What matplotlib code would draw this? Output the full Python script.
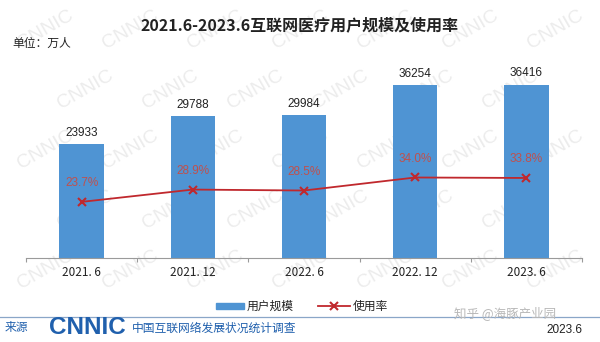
import numpy as np
import matplotlib.pyplot as plt

plt.rcParams['font.family'] = ['Liberation Sans', 'Noto Sans CJK SC', 'DejaVu Sans']
cjk = ['Noto Sans CJK SC', 'DejaVu Sans']

# 互联网医疗用户规模（万人）及使用率（%）
periods = ["2021. 6", "2021. 12", "2022. 6", "2022. 12", "2023. 6"]
users = [23933, 29788, 29984, 36254, 36416]
rate = [23.7, 28.9, 28.5, 34.0, 33.8]

bar_color = "#4f94d3"
line_color = "#c0282d"
label_red = "#c0504d"
cnnic_blue = "#2060ad"

fig = plt.figure(figsize=(6, 3.42), dpi=100)
ax = fig.add_axes([0.0433, 0.2456, 0.9267, 0.637])
x = np.arange(len(periods))

ax.bar(x, users, width=0.4, color=bar_color, zorder=2)
for xi, v in zip(x, users):
    ax.annotate(str(v), (xi, v), xytext=(0, 4), textcoords="offset points",
                ha="center", va="bottom", fontsize=8.5, color="#222222")
ax.set_xlim(-0.5, len(periods) - 0.5)
ax.set_ylim(0, 45760)
ax.set_yticks([])
for s in ["top", "right", "left"]:
    ax.spines[s].set_visible(False)
ax.spines["bottom"].set_color("#9a9a9a")
ax.set_xticks(np.arange(-0.5, len(periods)))
ax.set_xticklabels([])
ax.tick_params(axis="x", which="major", length=3, color="#9a9a9a")
ax.set_xticks(x, minor=True)
ax.set_xticklabels(periods, minor=True, fontsize=8.5, color="#222222", family=cjk)
ax.tick_params(axis="x", which="minor", length=0, pad=6)
ax.patch.set_visible(False)

ax2 = ax.twinx()
ax2.plot(x, rate, color=line_color, lw=1.3, marker="x", ms=6, mew=1.5, zorder=3)
for xi, r in zip(x, rate):
    ax2.annotate(f"{r:.1f}%", (xi, r), xytext=(0, 9), textcoords="offset points",
                 ha="center", va="bottom", fontsize=8.5, color=label_red)
ax2.set_ylim(0, 92)
ax2.axis("off")
ax.set_zorder(1)
ax2.set_zorder(2)

# 标题
fig.text(0.5, 1 - 25 / 342, "2021.6-2023.6互联网医疗用户规模及使用率", ha="center", va="center",
         fontsize=11.5, fontweight="bold", color="#222222", family=cjk)
fig.text(12 / 600, 1 - 43 / 342, "单位：万人", ha="left", va="center", fontsize=8.5,
         color="#222222", family=cjk)

# 图例
fig.patches.append(plt.Rectangle((216 / 600, 1 - 309 / 342), 28 / 600, 6 / 342,
                                 transform=fig.transFigure, color=bar_color))
fig.text(247 / 600, 1 - 306 / 342, "用户规模", ha="left", va="center", fontsize=8.5,
         color="#222222", family=cjk)
fig.lines.append(plt.Line2D([318 / 600, 350 / 600], [1 - 306 / 342] * 2,
                            transform=fig.transFigure, color=line_color, lw=1.3))
fig.lines.append(plt.Line2D([334 / 600], [1 - 306 / 342], transform=fig.transFigure,
                            color=line_color, marker="x", ms=6, mew=1.5))
fig.text(353 / 600, 1 - 306 / 342, "使用率", ha="left", va="center", fontsize=8.5,
         color="#222222", family=cjk)

# 页脚
fig.lines.append(plt.Line2D([0, 1], [1 - 317 / 342] * 2, transform=fig.transFigure,
                            color="#8aa6c8", lw=0.9))
fig.text(5 / 600, 1 - 328 / 342, "来源", ha="left", va="center", fontsize=8.5,
         color=cnnic_blue, family=cjk)
fig.text(49 / 600, 1 - 327 / 342, "CNNIC", ha="left", va="center", fontsize=17.5,
         fontweight="bold", color=cnnic_blue)
fig.text(132 / 600, 1 - 328 / 342, "中国互联网络发展状况统计调查", ha="left", va="center",
         fontsize=8.5, color=cnnic_blue, family=cjk)
fig.text(582 / 600, 1 - 330 / 342, "2023.6", ha="right", va="center", fontsize=8.5,
         color="#222222")
fig.text(505 / 600, 1 - 313 / 342, "知乎 @海豚产业园", ha="center", va="center",
         fontsize=9, color="#b8b8b8", family=cjk)

# 背景水印
for row in range(5):
    for col in range(7):
        wx = 45 + col * 85 + (row % 2) * 40
        wy = 30 + row * 60
        if wx < 560:
            fig.text(wx / 600, 1 - wy / 342, "CNNIC", ha="center", va="center",
                     fontsize=14, color="#ececec", rotation=30, zorder=0.5)

fig.savefig("out.png", dpi=100, facecolor="white")
